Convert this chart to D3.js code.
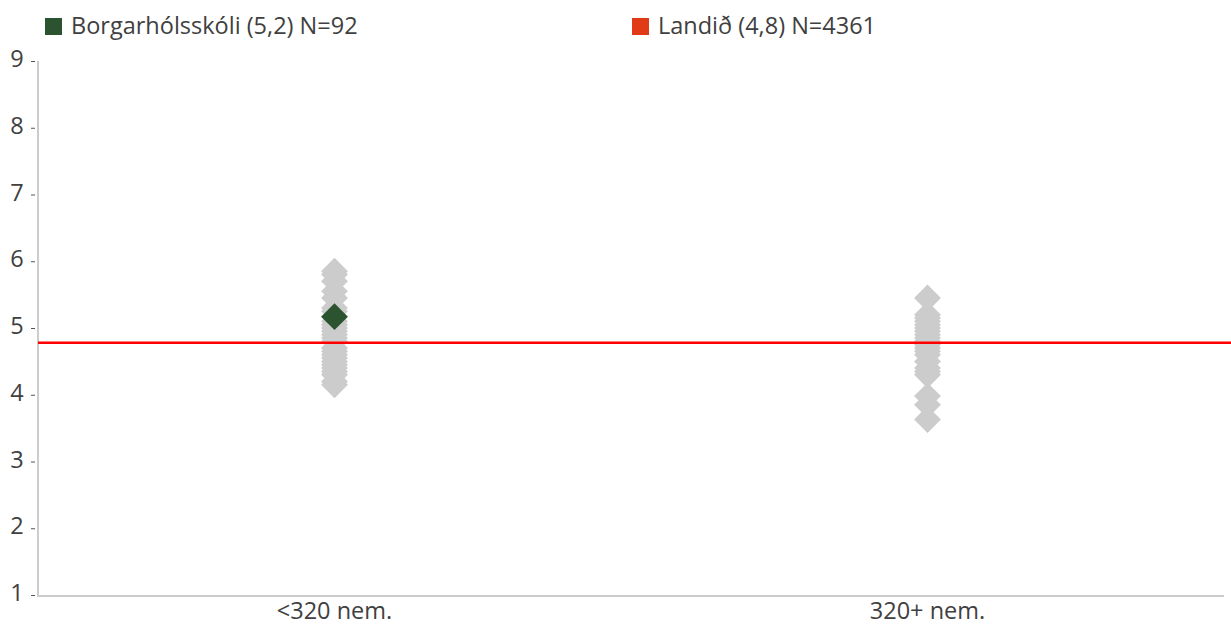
<!DOCTYPE html>
<html>
<head>
<meta charset="utf-8">
<script src="https://cdn.jsdelivr.net/npm/d3@7"></script>
<style>
  body { margin: 0; background: #fff; }
  svg text { font-family: "Open Sans", Lato, sans-serif; fill: #404040; }
</style>
</head>
<body>
<svg width="1231" height="626"></svg>
<script>
// categories (school size groups)
var categories = ["<320 nem.", "320+ nem."];
// school averages in each group (grey diamonds)
var smallSchools = [5.85, 5.8, 5.7, 5.55, 5.45, 5.3, 5.25, 5.1, 5.05, 5.0, 4.95, 4.9, 4.85, 4.8,
                    4.7, 4.65, 4.6, 4.55, 4.5, 4.45, 4.4, 4.35, 4.3, 4.2, 4.15];
var largeSchools = [5.45, 5.2, 5.15, 5.1, 5.05, 5.0, 4.95, 4.9, 4.85, 4.8, 4.75, 4.7, 4.65, 4.6,
                    4.5, 4.4, 4.35, 4.3, 3.98, 3.85, 3.63];
var schoolName = "Borgarhólsskóli";
var schoolValue = 5.17, schoolGroup = "<320 nem.", schoolN = 92;
var nationalValue = 4.78, nationalN = 4361;
var yTicks = [1, 2, 3, 4, 5, 6, 7, 8, 9];

var svg = d3.select("svg");
var margin = {left: 38, right: 1224, top: 61, bottom: 595};
var fs = 23.5;

var x = d3.scaleBand().domain(categories).range([margin.left, margin.right]);
var y = d3.scaleLinear().domain([1, 9]).range([margin.bottom, margin.top]);

// legend
var legend = [
  {label: schoolName + " (5,2) N=" + schoolN, color: "#2c5330", x: 45},
  {label: "Landið (4,8) N=" + nationalN, color: "#e03a16", x: 632}
];
var lg = svg.selectAll(".legend").data(legend).enter().append("g").attr("class", "legend");
lg.append("rect").attr("x", d => d.x).attr("y", 18).attr("width", 17).attr("height", 17)
  .attr("fill", d => d.color);
lg.append("text").attr("x", d => d.x + 26).attr("y", 34).attr("font-size", fs).text(d => d.label);

// y axis
svg.append("line").attr("x1", margin.left).attr("x2", margin.left)
  .attr("y1", y(9)).attr("y2", y(1) + 1).attr("stroke", "#cccccc").attr("stroke-width", 2);
var yt = svg.selectAll(".ytick").data(yTicks).enter().append("g").attr("class", "ytick");
yt.append("text").attr("x", 17).attr("y", d => y(d) + 6).attr("text-anchor", "middle")
  .attr("font-size", fs).text(d => d);
yt.append("line").attr("x1", 31).attr("x2", 35).attr("y1", d => y(d) + 0.5).attr("y2", d => y(d) + 0.5)
  .attr("stroke", "#555").attr("stroke-width", 1);

// x axis
svg.append("line").attr("x1", margin.left - 1).attr("x2", margin.right)
  .attr("y1", y(1) + 1).attr("y2", y(1) + 1).attr("stroke", "#cccccc").attr("stroke-width", 2);
svg.selectAll(".xlab").data(categories).enter().append("text")
  .attr("x", d => x(d) + x.bandwidth() / 2).attr("y", 619).attr("text-anchor", "middle")
  .attr("font-size", fs).text(d => d);

var diamond = d3.symbol().type(d3.symbolSquare).size(19 * 19);

// grey diamonds
var pts = [];
smallSchools.forEach(v => pts.push({cat: categories[0], v: v}));
largeSchools.forEach(v => pts.push({cat: categories[1], v: v}));
svg.append("g").selectAll("path").data(pts).enter().append("path")
  .attr("d", diamond)
  .attr("transform", d => "translate(" + (x(d.cat) + x.bandwidth() / 2) + "," + y(d.v) + ") rotate(45)")
  .attr("fill", "#cccccc");

// national line
svg.append("line").attr("x1", margin.left).attr("x2", 1231)
  .attr("y1", y(nationalValue)).attr("y2", y(nationalValue))
  .attr("stroke", "#ff0000").attr("stroke-width", 2.5);

// school diamond
svg.append("path").attr("d", diamond)
  .attr("transform", "translate(" + (x(schoolGroup) + x.bandwidth() / 2) + "," + y(schoolValue) + ") rotate(45)")
  .attr("fill", "#2c5330");
</script>
</body>
</html>
